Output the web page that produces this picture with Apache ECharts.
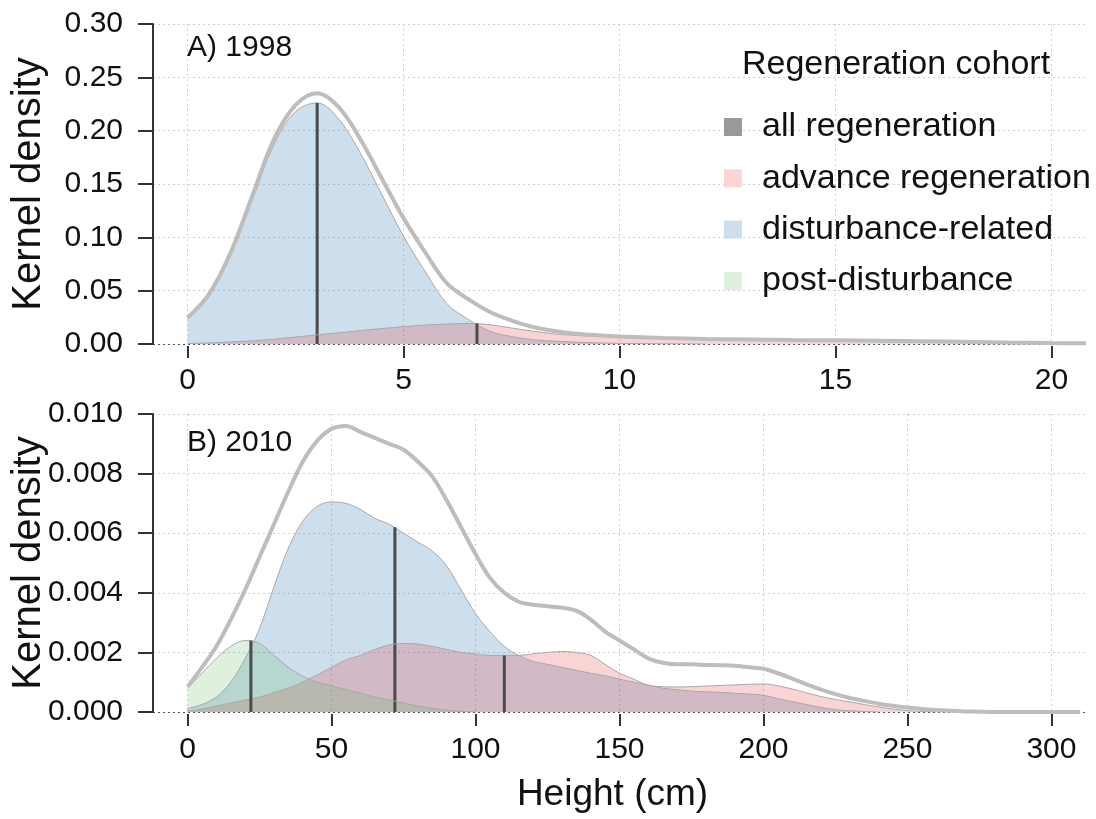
<!DOCTYPE html>
<html><head><meta charset="utf-8">
<script src="https://cdn.jsdelivr.net/npm/echarts@6/dist/echarts.min.js"></script>
<style>html,body{margin:0;padding:0;background:#fff}#c{width:1096px;height:819px}</style>
</head><body><div id="c"></div>
<script>
// ---------- Panel A: 1998 ----------
const xA      = [0,0.5,1,1.5,2,2.5,3,3.5,4,4.5,5,5.5,6,6.5,7,7.5,8,8.5,9,9.5,10,11,12,13,14,15,16,17,18,19,20,20.8];
const allA    = [0.0245,0.047,0.086,0.139,0.192,0.224,0.235,0.222,0.192,0.155,0.118,0.086,0.057,0.042,0.030,0.022,0.016,0.0122,0.0097,0.0082,0.0071,0.0057,0.0048,0.0043,0.0038,0.0034,0.003,0.0025,0.002,0.0014,0.0009,0.0006];
const distA   = [0.023,0.045,0.083,0.135,0.187,0.218,0.226,0.211,0.179,0.140,0.101,0.068,0.038,0.023,0.012,0.007,0.004,0.0027,0.0017,0.001,0.0006,0.0002,0];
const advA    = [0.0005,0.001,0.002,0.003,0.0045,0.0065,0.0085,0.0105,0.0125,0.0145,0.0163,0.0177,0.0187,0.0193,0.018,0.015,0.012,0.0095,0.008,0.0072,0.0065,0.0055,0.0048,0.0043,0.0038,0.0034,0.003,0.0025,0.002,0.0014,0.0009,0.0006];
const medianXA   = [3.0, 6.7];      // disturbance-related, advance regeneration
const medianTopA = [0.226, 0.0193];
const xTickA  = [0,5,10,15,20];
const yTickA  = ['0.00','0.05','0.10','0.15','0.20','0.25','0.30'];

// ---------- Panel B: 2010 ----------
const xB = [0,5,10,15,20,25,30,35,40,45,50,55,60,65,70,75,80,85,90,95,100,105,110,115,120,125,130,135,140,145,150,155,160,165,170,175,180,185,190,195,200,205,210,215,220,225,230,235,240,245,250,255,260,265,270,275,280,285,290,295,300,305,310];
const allB  = [0.00085,0.0015,0.0022,0.0031,0.0041,0.0052,0.0063,0.0074,0.0084,0.0091,0.0095,0.0096,0.0094,0.0092,0.0090,0.0088,0.0084,0.0079,0.0071,0.0062,0.0053,0.0045,0.0040,0.0037,0.0036,0.00355,0.0035,0.0034,0.0031,0.0027,0.0024,0.0021,0.0018,0.00165,0.0016,0.0016,0.00158,0.00157,0.00155,0.0015,0.00145,0.0013,0.00112,0.00093,0.00075,0.0006,0.00047,0.00037,0.00028,0.00021,0.00015,0.0001,0.00007,0.00004,0.00002,0.00001,0,0,0,0,0,0,0];
const distB = [0.00012,0.00025,0.0005,0.0010,0.0018,0.0028,0.0042,0.0055,0.0064,0.0069,0.00705,0.0070,0.0068,0.0065,0.0063,0.0060,0.0057,0.0054,0.0049,0.0041,0.0033,0.0027,0.0022,0.0019,0.0017,0.0016,0.0015,0.0014,0.0013,0.00122,0.0011,0.001,0.0009,0.0008,0.00075,0.0007,0.00068,0.00066,0.00063,0.0006,0.00056,0.00045,0.00035,0.00025,0.00015,0.00008,0.00004,0.00002,0];
const advB  = [0.00003,0.0001,0.0002,0.0003,0.0004,0.0005,0.00065,0.0008,0.001,0.00125,0.0015,0.00175,0.0019,0.0021,0.00225,0.0023,0.00228,0.0022,0.0021,0.002,0.00195,0.0019,0.0019,0.0019,0.00195,0.002,0.00203,0.002,0.0019,0.0016,0.0013,0.0011,0.0009,0.00085,0.00084,0.00085,0.00087,0.00089,0.00091,0.00093,0.00094,0.00088,0.00077,0.00064,0.00052,0.00042,0.00034,0.00025,0.00017,0.0001,0.00005,0.00002,0];
const postB = [0.0008,0.0013,0.0018,0.0022,0.0024,0.0023,0.0019,0.0015,0.0012,0.001,0.00088,0.00075,0.00063,0.0005,0.0004,0.0003,0.0002,0.00012,0.00006,0.00002,0];
const medianXB   = [22, 72, 110];   // post-disturbance, disturbance-related, advance regeneration
const medianTopB = [0.0024, 0.0062, 0.0019];
const xTickB  = [0,50,100,150,200,250,300];
const yTickB  = ['0.000','0.002','0.004','0.006','0.008','0.010'];

const cohorts = ['all regeneration','advance regeneration','disturbance-related','post-disturbance'];

// ---------- styles ----------
const FONT = '"Liberation Sans", Arial, Helvetica, sans-serif';
const C_ADV = '#E41A1C', C_DIST = '#377EB8', C_POST = '#4DAF4A';
const legendColors = ['#999999', 'rgb(251,212,212)', 'rgb(205,223,237)', 'rgb(222,241,220)'];

function pairs(xs, ys) { return ys.map((y, i) => [xs[i], y]); }
function area(name, gi, xs, ys, color, op) {
  return { type:'line', name, xAxisIndex:gi, yAxisIndex:gi, data:pairs(xs, ys),
    smooth:0.35, symbol:'none', silent:true,
    lineStyle:{ color:'#a8a8a8', width:1 }, itemStyle:{ color },
    areaStyle:{ color, opacity:op, origin:'start' } };
}
function median(gi, x, top) {
  return { type:'line', name:'median', xAxisIndex:gi, yAxisIndex:gi, data:[[x,0],[x,top]],
    symbol:'none', silent:true, lineStyle:{ color:'#4a4a4a', width:3 } };
}
function totalLine(gi, xs, ys) {
  return { type:'line', name:cohorts[0], xAxisIndex:gi, yAxisIndex:gi, data:pairs(xs, ys),
    smooth:0.35, symbol:'none', silent:true, itemStyle:{ color:'#999999' },
    lineStyle:{ color:'#bdbdbd', width:4 } };
}
const grid = '#cfcfcf';
function xAx(gi, lo, hi, ticks, margin, extra) {
  return Object.assign({ gridIndex:gi, type:'value', min:lo, max:hi, offset:2,
    axisLine:{ show:false, onZero:false },
    axisTick:{ show:true, length:12, customValues:ticks, lineStyle:{ color:'#333', width:2 } },
    axisLabel:{ customValues:ticks, fontSize:30, fontFamily:FONT, color:'#111', margin },
    splitLine:{ show:true, lineStyle:{ color:grid, type:[2,3], width:1 } } }, extra || {});
}
function yAx(gi, labels) {
  const vals = labels.map(parseFloat);
  const cols = labels.map((l, i) => i === 0 ? '#555' : grid);
  return { gridIndex:gi, type:'value', min:vals[0], max:vals[vals.length-1], interval:vals[1]-vals[0],
    axisLine:{ show:true, onZero:false, lineStyle:{ color:'#333', width:2 } },
    axisTick:{ show:true, length:15, lineStyle:{ color:'#333', width:2 } },
    axisLabel:{ fontSize:30, fontFamily:FONT, color:'#111', margin:30, formatter:(v, i) => labels[i] },
    splitLine:{ show:true, lineStyle:{ color:cols, type:[2,3], width:1 } },
    name:'Kernel density', nameLocation:'middle', nameGap:104, nameMoveOverlap:false,
    nameTextStyle:{ fontSize:40, fontFamily:FONT, color:'#111' } };
}

const option = {
  animation:false,
  backgroundColor:'#ffffff',
  textStyle:{ fontFamily:FONT },
  title:[
    { text:'A) 1998', left:187, top:33, padding:0, textStyle:{ fontSize:30, fontWeight:'normal', fontFamily:FONT, color:'#111' } },
    { text:'B) 2010', left:187, top:428, padding:0, textStyle:{ fontSize:30, fontWeight:'normal', fontFamily:FONT, color:'#111' } },
    { text:'Regeneration cohort', left:742, top:48, padding:0, textStyle:{ fontSize:34, fontWeight:'normal', fontFamily:FONT, color:'#111' } }
  ],
  legend:{ orient:'vertical', left:724, top:110, padding:0, itemGap:17.3, itemWidth:18, itemHeight:18,
    icon:'rect', selectedMode:false,
    textStyle:{ fontSize:34, fontFamily:FONT, color:'#111', lineHeight:34, padding:[0,0,0,15] },
    data: cohorts.map((n, i) => ({ name:n, icon:'rect', itemStyle:{ color:legendColors[i], borderWidth:0 } })) },
  grid:[
    { left:153, top:24, width:933, height:320, containLabel:false, outerBoundsMode:'none' },
    { left:153, top:414, width:933, height:298, containLabel:false, outerBoundsMode:'none' }
  ],
  xAxis:[
    xAx(0, -0.8, 20.8, xTickA, 20),
    xAx(1, -12, 312, xTickB, 21, { name:'Height (cm)', nameLocation:'middle', nameGap:62, nameMoveOverlap:false,
      nameTextStyle:{ fontSize:37, fontFamily:FONT, color:'#111', padding:[0,14,0,0] } })
  ],
  yAxis:[ yAx(0, yTickA), yAx(1, yTickB) ],
  series:[
    area(cohorts[2], 0, xA, distA, C_DIST, 0.25),
    median(0, medianXA[0], medianTopA[0]),
    area(cohorts[1], 0, xA, advA, C_ADV, 0.19),
    median(0, medianXA[1], medianTopA[1]),
    totalLine(0, xA, allA),

    area(cohorts[2], 1, xB, distB, C_DIST, 0.25),
    median(1, medianXB[1], medianTopB[1]),
    area(cohorts[1], 1, xB, advB, C_ADV, 0.19),
    median(1, medianXB[2], medianTopB[2]),
    area(cohorts[3], 1, xB, postB, C_POST, 0.18),
    median(1, medianXB[0], medianTopB[0]),
    totalLine(1, xB, allB)
  ]
};
echarts.init(document.getElementById('c'), null, { renderer:'canvas' }).setOption(option);
</script></body></html>
